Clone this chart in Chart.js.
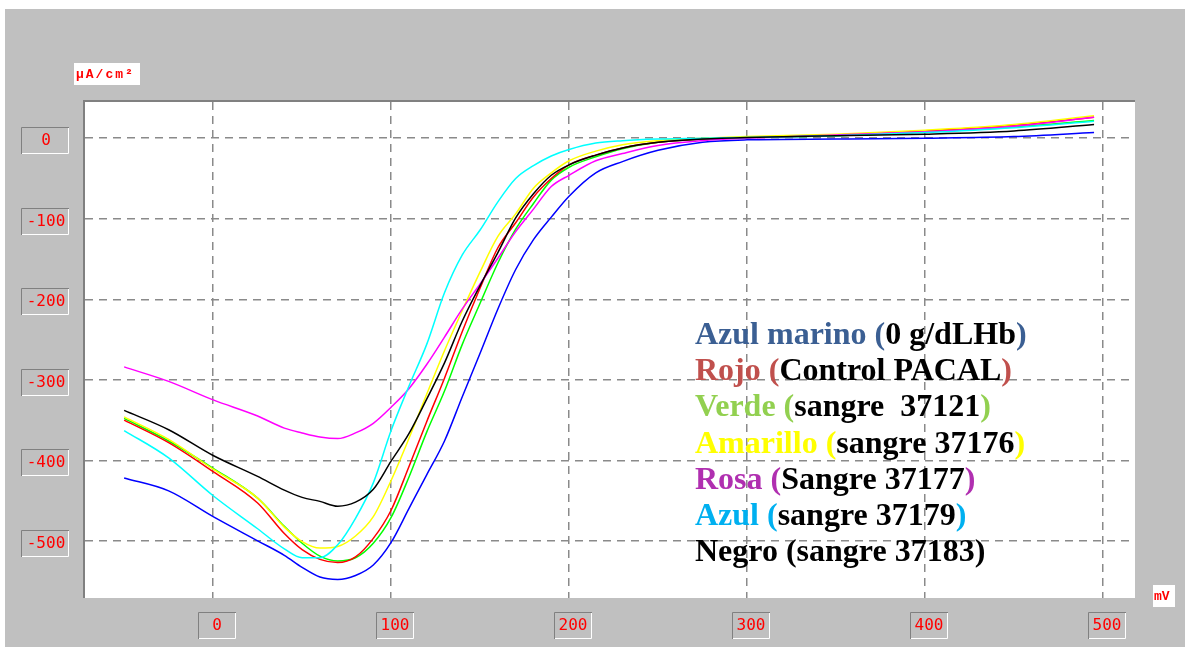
<!DOCTYPE html>
<html>
<head>
<meta charset="utf-8">
<script src="https://cdn.jsdelivr.net/npm/chart.js@4.4.1/dist/chart.umd.min.js"></script>
<style>
    html, body { margin: 0; padding: 0; background: #ffffff; }
    #wrap { width: 1185px; height: 647px; }
</style>
</head>
<body>
<div id="wrap"><canvas id="curvas" width="1185" height="647"></canvas></div>
<script>
// Potencial (mV), comun a todas las curvas
const potenciales = [-50, -25, 0, 25, 40, 50, 60, 70, 80, 90, 100, 110, 120, 130, 140, 150, 160, 170, 180, 190, 200, 215, 230, 250, 275, 300, 350, 400, 450, 495];

// Densidad de corriente (µA/cm²) de cada muestra
const azulMarino = [-422, -438, -470, -500, -518, -533, -545, -548, -543, -530, -502, -460, -418, -376, -321, -267, -212, -163, -126, -98, -72, -43, -29, -15, -5, -2, -1, 0, 2, 7];
const rojo       = [-350, -378, -414, -453, -491, -511, -523, -527, -520, -497, -462, -408, -352, -298, -240, -186, -136, -105, -73, -50, -33, -21, -12, -5, -1, 1, 4, 9, 16, 26];
const verde      = [-348, -376, -410, -447, -482, -503, -519, -525, -521, -503, -471, -421, -365, -314, -256, -205, -155, -113, -81, -52, -36, -23, -13, -5, -1, 1, 3, 8, 14, 22];
const amarillo   = [-346, -374, -411, -447, -483, -501, -509, -507, -494, -470, -425, -373, -318, -264, -214, -166, -122, -94, -62, -43, -28, -16, -8, -3, 0, 2, 5, 10, 17, 28];
const rosa       = [-284, -302, -325, -345, -360, -366, -371, -373, -366, -354, -334, -311, -281, -247, -212, -181, -149, -116, -88, -60, -46, -28, -19, -9, -3, 0, 4, 8, 15, 26];
const azul       = [-363, -397, -444, -485, -510, -521, -521, -505, -472, -428, -363, -308, -256, -192, -145, -114, -79, -50, -34, -22, -14, -6, -3, -1, 0, 1, 3, 7, 13, 21];
const negro      = [-338, -362, -394, -420, -437, -446, -451, -457, -452, -436, -401, -367, -324, -279, -227, -183, -142, -99, -69, -46, -33, -21, -12, -5, -1, 1, 3, 5, 9, 17];

// Etiquetas de los ejes
const ticksX = [0, 100, 200, 300, 400, 500];
const ticksY = [0, -100, -200, -300, -400, -500];
const unidadY = 'µA/cm²';
const unidadX = 'mV';

// Leyenda (texto escrito sobre la grafica)
const leyendaNombres  = ['Azul marino', 'Rojo', 'Verde', 'Amarillo', 'Rosa', 'Azul', 'Negro'];
const leyendaMuestras = ['0 g/dLHb', 'Control PACAL', 'sangre  37121', 'sangre 37176', 'Sangre 37177', 'sangre 37179', 'sangre 37183'];
const leyendaColores  = ['#3b5f93', '#c0504d', '#92d050', '#ffff00', '#b02fb0', '#00b0f0', '#000000'];

const series = [
    { label: 'Negro', data: negro, color: '#000000' },
    { label: 'Azul', data: azul, color: '#00ffff' },
    { label: 'Rosa', data: rosa, color: '#ff00ff' },
    { label: 'Amarillo', data: amarillo, color: '#ffff00' },
    { label: 'Rojo', data: rojo, color: '#ff0000' },
    { label: 'Verde', data: verde, color: '#00ff00' },
    { label: 'Azul marino', data: azulMarino, color: '#0000ff' }
];

// Caja hundida, estilo ventana antigua
function caja(ctx, x, y, w, h) {
    ctx.fillStyle = '#c0c0c0';
    ctx.fillRect(x, y, w, h);
    ctx.lineWidth = 1;
    ctx.strokeStyle = '#808080';
    ctx.beginPath();
    ctx.moveTo(x + 0.5, y + h);
    ctx.lineTo(x + 0.5, y + 0.5);
    ctx.lineTo(x + w, y + 0.5);
    ctx.stroke();
    ctx.strokeStyle = '#ffffff';
    ctx.beginPath();
    ctx.moveTo(x + w - 0.5, y + 1);
    ctx.lineTo(x + w - 0.5, y + h - 0.5);
    ctx.lineTo(x + 1, y + h - 0.5);
    ctx.stroke();
}

const marcoPlugin = {
    id: 'marco',
    beforeDraw(chart) {
        const ctx = chart.ctx;
        const a = chart.chartArea;
        ctx.save();
        ctx.fillStyle = '#ffffff';
        ctx.fillRect(0, 0, chart.width, chart.height);
        ctx.fillStyle = '#c0c0c0';
        ctx.fillRect(5, 9, chart.width - 5, chart.height - 9);
        ctx.fillStyle = '#ffffff';
        ctx.fillRect(a.left, a.top, a.right - a.left, a.bottom - a.top);
        ctx.restore();
    },
    afterDraw(chart) {
        const ctx = chart.ctx;
        const a = chart.chartArea;
        const xs = chart.scales.x;
        const ys = chart.scales.y;
        ctx.save();

        // borde del area de trazado
        ctx.strokeStyle = '#808080';
        ctx.lineWidth = 2;
        ctx.beginPath();
        ctx.moveTo(a.left - 1, a.bottom);
        ctx.lineTo(a.left - 1, a.top - 1);
        ctx.lineTo(a.right, a.top - 1);
        ctx.stroke();

        // etiquetas del eje Y
        ctx.font = '16px "DejaVu Sans Mono"';
        ctx.textAlign = 'center';
        ctx.textBaseline = 'middle';
        ticksY.forEach(function(v) {
            const py = Math.round(ys.getPixelForValue(v));
            caja(ctx, 21, py - 11, 48, 27);
            ctx.fillStyle = '#ff0000';
            ctx.fillText(String(v), 46, py + 3);
        });

        // etiquetas del eje X
        ticksX.forEach(function(v) {
            const px = Math.round(xs.getPixelForValue(v));
            caja(ctx, px - 15, a.bottom + 14, 38, 27);
            ctx.fillStyle = '#ff0000';
            ctx.fillText(String(v), px + 4, a.bottom + 28);
        });

        // unidades
        ctx.fillStyle = '#ffffff';
        ctx.fillRect(74, 63, 66, 22);
        ctx.fillRect(1153, 585, 22, 22);
        ctx.fillStyle = '#ff0000';
        ctx.font = 'bold 13px "Liberation Mono"';
        ctx.letterSpacing = '2px';
        ctx.textAlign = 'left';
        ctx.fillText(unidadY, 76, 75);
        ctx.letterSpacing = '0px';
        ctx.fillText(unidadX, 1154, 597);

        // leyenda
        ctx.font = 'bold 32px "Liberation Serif"';
        ctx.textBaseline = 'alphabetic';
        leyendaNombres.forEach(function(nombre, i) {
            const y = 344 + i * 36.2;
            let x = 695;
            const trozos = [
                [nombre + ' (', leyendaColores[i]],
                [leyendaMuestras[i], '#000000'],
                [')', leyendaColores[i]]
            ];
            trozos.forEach(function(t) {
                ctx.fillStyle = t[1];
                ctx.fillText(t[0], x, y);
                x += ctx.measureText(t[0]).width;
            });
        });
        ctx.restore();
    }
};

const ctx = document.getElementById('curvas').getContext('2d');

new Chart(ctx, {
    type: 'line',
    data: {
        labels: potenciales,
        datasets: series.map(function(s) {
            return {
                label: s.label,
                data: potenciales.map(function(p, i) { return { x: p, y: s.data[i] }; }),
                borderColor: s.color,
                backgroundColor: s.color,
                borderWidth: 1.5,
                pointRadius: 0,
                fill: false,
                cubicInterpolationMode: 'monotone'
            };
        })
    },
    options: {
        responsive: false,
        animation: false,
        devicePixelRatio: 1,
        layout: {
            padding: { left: 85, top: 102, right: 50, bottom: 49 }
        },
        plugins: {
            legend: { display: false },
            tooltip: { enabled: false }
        },
        scales: {
            x: {
                type: 'linear',
                min: -72,
                max: 518,
                afterBuildTicks: function(scale) {
                    scale.ticks = ticksX.map(function(v) { return { value: v }; });
                },
                ticks: { display: false },
                grid: { color: '#8a8a8a', lineWidth: 1.5, drawTicks: false },
                border: { display: false, dash: [8, 6] }
            },
            y: {
                type: 'linear',
                min: -571,
                max: 45,
                afterBuildTicks: function(scale) {
                    scale.ticks = ticksY.map(function(v) { return { value: v }; });
                },
                ticks: { display: false },
                grid: { color: '#8a8a8a', lineWidth: 1.5, drawTicks: false },
                border: { display: false, dash: [8, 6] }
            }
        }
    },
    plugins: [marcoPlugin]
});
</script>
</body>
</html>
